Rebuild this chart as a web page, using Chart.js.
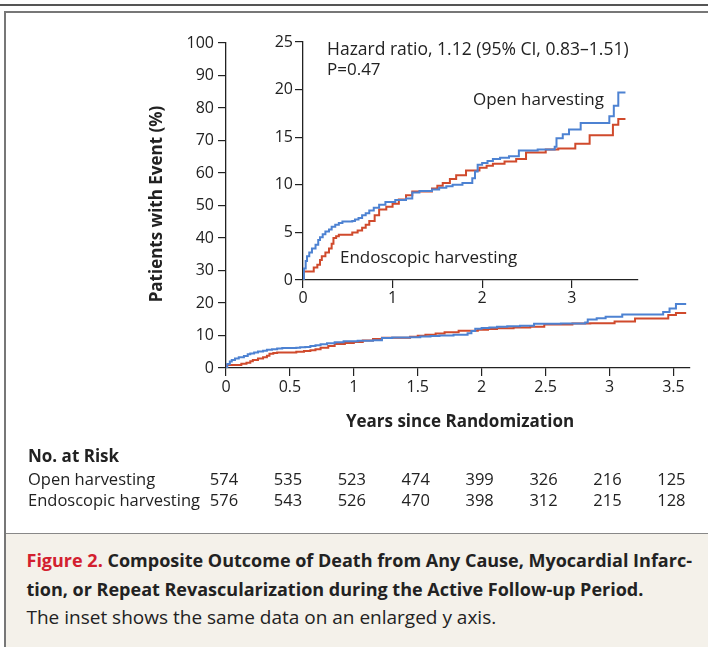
<!DOCTYPE html>
<html>
<head>
<meta charset="utf-8">
<script src="https://cdn.jsdelivr.net/npm/chart.js@4.4.0/dist/chart.umd.min.js"></script>
<style>
  body { margin: 0; width: 708px; height: 647px; background: #fff; position: relative; overflow: hidden; font-family: "Open Sans", sans-serif; }
  canvas { position: absolute; left: 0; top: 0; }
  .rule1 { position: absolute; left: 0; top: 4px; width: 708px; height: 2px; background: #555; }
  .rule2 { position: absolute; left: 4px; top: 11px; width: 704px; height: 1.5px; background: #777; }
  .side { position: absolute; left: 4px; top: 11px; width: 1.5px; height: 636px; background: #777; }
  #caption { position: absolute; left: 5.5px; top: 533px; width: 702px; height: 114px; background: #f4f1ea; border-top: 1.5px solid #888;
    box-sizing: border-box; padding: 12px 0 0 21px; font-size: 18px; line-height: 28.5px; color: #222; white-space: nowrap; }
  #caption b { font-weight: 700; }
  #caption .fig { color: #d3202f; }
  #caption .note { font-size: 19px; }
</style>
</head>
<body>
<div class="rule1"></div>
<div class="rule2"></div>
<div class="side"></div>
<canvas id="main-chart" width="708" height="530"></canvas>
<canvas id="inset-chart" width="708" height="530"></canvas>
<div id="caption">
  <b><span class="fig">Figure 2.</span> Composite Outcome of Death from Any Cause, Myocardial Infarc-<br>tion, or Repeat Revascularization during the Active Follow-up Period.</b><br>
  <span class="note">The inset shows the same data on an enlarged y axis.</span>
</div>
<script>
// cumulative incidence (%)
var openYears = [0, 0.01, 0.03, 0.045, 0.07, 0.1, 0.14, 0.17, 0.19, 0.22, 0.25, 0.29, 0.32, 0.36, 0.4, 0.44, 0.55, 0.58, 0.62, 0.66, 0.7, 0.74, 0.79, 0.85, 0.92, 1.03, 1.15, 1.22, 1.3, 1.44, 1.52, 1.6, 1.67, 1.78, 1.89, 1.92, 1.95, 2.0, 2.06, 2.12, 2.2, 2.3, 2.41, 2.62, 2.81, 2.83, 2.9, 2.97, 3.1, 3.42, 3.47, 3.52, 3.6];
var openPct   = [0, 1.2, 2.0, 2.5, 2.9, 3.3, 3.7, 4.2, 4.5, 4.8, 5.1, 5.3, 5.6, 5.8, 6.0, 6.15, 6.2, 6.35, 6.5, 6.8, 7.0, 7.3, 7.6, 7.9, 8.2, 8.4, 8.55, 9.2, 9.35, 9.5, 9.7, 9.85, 10.0, 10.2, 10.7, 11.4, 12.1, 12.3, 12.5, 12.7, 12.85, 13.0, 13.6, 13.7, 14.0, 14.9, 15.3, 15.8, 16.5, 17.2, 18.3, 19.7, 19.7];

var endoYears = [0, 0.005, 0.12, 0.16, 0.19, 0.21, 0.25, 0.29, 0.32, 0.34, 0.37, 0.4, 0.55, 0.61, 0.66, 0.7, 0.74, 0.8, 0.85, 0.93, 1.0, 1.07, 1.15, 1.22, 1.44, 1.5, 1.56, 1.64, 1.71, 1.82, 1.97, 2.05, 2.12, 2.25, 2.38, 2.49, 2.71, 2.85, 3.04, 3.2, 3.46, 3.52, 3.6];
var endoPct   = [0, 0.9, 1.3, 1.6, 2.1, 2.5, 2.9, 3.3, 3.8, 4.4, 4.6, 4.75, 5.0, 5.2, 5.5, 5.8, 6.2, 6.8, 7.4, 7.7, 8.0, 8.45, 8.9, 9.3, 9.6, 9.9, 10.2, 10.6, 11.0, 11.5, 11.8, 12.0, 12.2, 12.45, 12.7, 13.4, 13.7, 13.8, 14.3, 15.2, 16.3, 16.9, 16.9];

var riskYears = [0, 0.5, 1, 1.5, 2, 2.5, 3, 3.5];
var riskOpen  = [574, 535, 523, 474, 399, 326, 216, 125];
var riskEndo  = [576, 543, 526, 470, 398, 312, 215, 128];

var blue = '#4d82d2';
var red = '#d04a2c';
var fontFamily = '"Open Sans", sans-serif';

function points(xs, ys) {
    return xs.map(function (x, i) { return { x: x, y: ys[i] }; });
}

function curves() {
    return [{
        label: 'Open harvesting',
        data: points(openYears, openPct),
        borderColor: blue,
        borderWidth: 2,
        stepped: true,
        pointRadius: 0,
        fill: false
    }, {
        label: 'Endoscopic harvesting',
        data: points(endoYears, endoPct),
        borderColor: red,
        borderWidth: 2,
        stepped: true,
        pointRadius: 0,
        fill: false
    }];
}

function axis(min, max, step, pad, fitFn) {
    return {
        type: 'linear',
        min: min,
        max: max,
        ticks: {
            stepSize: step,
            includeBounds: false,
            maxRotation: 0,
            autoSkip: false,
            padding: pad,
            color: '#222',
            font: { family: fontFamily, size: 16 },
            callback: function (v) { return String(v); }
        },
        grid: { drawOnChartArea: false, tickLength: 8, color: '#222', lineWidth: 1.2 },
        border: { color: '#222', width: 1.3 },
        afterFit: fitFn
    };
}

var mainText = {
    id: 'mainText',
    afterDraw: function (chart) {
        var ctx = chart.ctx;
        var x = chart.scales.x;
        ctx.save();
        ctx.fillStyle = '#222';
        ctx.textBaseline = 'middle';

        ctx.font = 'bold 17px ' + fontFamily;
        ctx.textAlign = 'center';
        ctx.fillText('Years since Randomization', 460, 422);
        ctx.save();
        ctx.translate(157, 204);
        ctx.rotate(-Math.PI / 2);
        ctx.fillText('Patients with Event (%)', 0, 0);
        ctx.restore();

        ctx.textAlign = 'left';
        ctx.fillText('No. at Risk', 28, 457);
        ctx.font = '16.5px ' + fontFamily;
        ctx.fillText('Open harvesting', 28, 480);
        ctx.fillText('Endoscopic harvesting', 28, 501);

        ctx.textAlign = 'center';
        riskYears.forEach(function (t, i) {
            var px = x.getPixelForValue(t) - 2;
            ctx.fillText(String(riskOpen[i]), px, 480);
            ctx.fillText(String(riskEndo[i]), px, 501);
        });
        ctx.restore();
    }
};

var insetText = {
    id: 'insetText',
    afterDraw: function (chart) {
        var ctx = chart.ctx;
        ctx.save();
        ctx.fillStyle = '#222';
        ctx.textBaseline = 'middle';
        ctx.textAlign = 'left';
        ctx.font = '17.5px ' + fontFamily;
        ctx.fillText('Hazard ratio, 1.12 (95% CI, 0.83\u20131.51)', 327, 50);
        ctx.font = '17px ' + fontFamily;
        ctx.fillText('P=0.47', 327, 70);
        ctx.fillText('Open harvesting', 473, 100);
        ctx.fillText('Endoscopic harvesting', 340, 258);
        ctx.restore();
    }
};

var ctxMain = document.getElementById('main-chart').getContext('2d');
new Chart(ctxMain, {
    type: 'line',
    data: { datasets: curves() },
    options: {
        responsive: false,
        animation: false,
        devicePixelRatio: 1,
        layout: { autoPadding: false, padding: { left: 0, right: 18, top: 43, bottom: 0 } },
        plugins: { legend: { display: false }, tooltip: { enabled: false } },
        scales: {
            x: axis(0, 3.63, 0.5, 2, function (s) { s.height = 162; }),
            y: axis(0, 100, 10, 4, function (s) { s.width = 226; })
        }
    },
    plugins: [mainText]
});

var ctxInset = document.getElementById('inset-chart').getContext('2d');
new Chart(ctxInset, {
    type: 'line',
    data: { datasets: curves() },
    options: {
        responsive: false,
        animation: false,
        devicePixelRatio: 1,
        layout: { autoPadding: false, padding: { left: 0, right: 70, top: 42, bottom: 0 } },
        plugins: { legend: { display: false }, tooltip: { enabled: false } },
        scales: {
            x: axis(0, 3.74, 1, 1, function (s) { s.height = 250; }),
            y: axis(0, 25, 5, 2, function (s) { s.width = 303; })
        }
    },
    plugins: [insetText]
});
</script>
</body>
</html>
